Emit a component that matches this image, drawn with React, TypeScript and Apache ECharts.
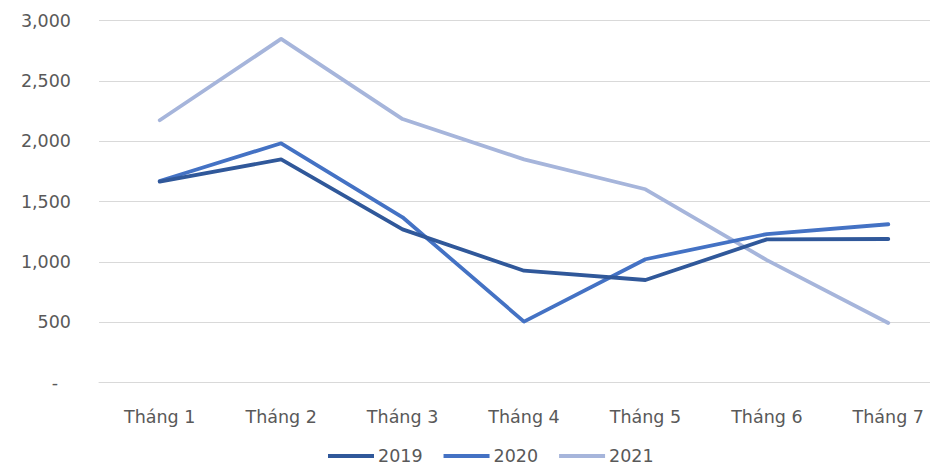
import React, { useEffect, useRef } from "react";
import * as echarts from "echarts";

const categories = ["Tháng 1", "Tháng 2", "Tháng 3", "Tháng 4", "Tháng 5", "Tháng 6", "Tháng 7"];
const s2019 = [1666, 1851, 1271, 928, 851, 1188, 1191];
const s2020 = [1672, 1984, 1371, 506, 1023, 1232, 1313];
const s2021 = [2175, 2849, 2185, 1851, 1603, 1016, 495];
const seriesNames = ["2019", "2020", "2021"];
const colors = ["#30589A", "#4472C4", "#A6B5DB"];

export default function App() {
  const ref = useRef<HTMLDivElement>(null);
  useEffect(() => {
    if (!ref.current) return;
    const chart = echarts.init(ref.current, undefined, { renderer: "svg" });
    const font = "DejaVu Sans";
    const data = [s2019, s2020, s2021];
    chart.setOption({
      animation: false,
      backgroundColor: "#ffffff",
      textStyle: { fontFamily: font },
      grid: { left: 99, right: 0, top: 20.7, bottom: 82.3 },
      legend: {
        left: 328,
        top: 447,
        padding: 0,
        icon: "rect",
        itemWidth: 46,
        itemHeight: 4,
        itemGap: 21,
        textStyle: { fontFamily: font, fontSize: 17.5, color: "#595959", padding: [0, 0, 0, -1] },
        data: seriesNames,
      },
      xAxis: {
        type: "category",
        data: categories,
        boundaryGap: true,
        axisLine: { show: true, lineStyle: { color: "#D9D9D9", width: 1 } },
        axisTick: { show: false },
        axisLabel: { color: "#595959", fontSize: 17.5, fontFamily: font, margin: 25 },
      },
      yAxis: {
        type: "value",
        min: 0,
        max: 3000,
        interval: 500,
        axisLine: { show: false },
        axisTick: { show: false },
        splitLine: { lineStyle: { color: "#D9D9D9", width: 1 } },
        axisLabel: {
          color: "#595959",
          fontSize: 17.5,
          fontFamily: font,
          margin: 28,
          formatter: (v: number) => (v === 0 ? "{d|-}" : v.toLocaleString("en-US")),
          rich: { d: { color: "#595959", fontSize: 17.5, fontFamily: font, padding: [0, 13, 0, 0] } },
        },
      },
      series: seriesNames.map((name, i) => ({
        name,
        type: "line",
        data: data[i],
        symbol: "none",
        color: colors[i],
        lineStyle: { color: colors[i], width: 3.8, cap: "round", join: "round" },
        z: 3 - i,
      })),
    });
    return () => chart.dispose();
  }, []);
  return (
    <div style={{ position: "absolute", left: 0, top: 0, width: 930, height: 465, overflow: "hidden" }}>
      <div ref={ref} style={{ width: 949, height: 465 }} />
    </div>
  );
}
